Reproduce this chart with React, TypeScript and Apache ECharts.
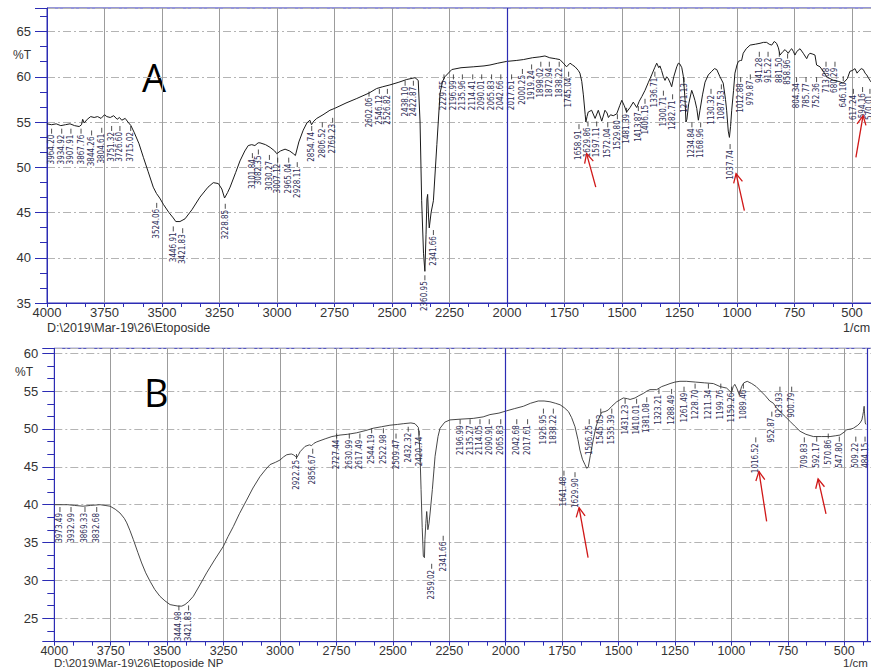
import React, { useEffect, useRef } from "react";
import * as echarts from "echarts";

// ---------- Panel A (Etoposide) spectrum: [wavenumber 1/cm, %T] ----------
const aSpectrum: number[][] = [
  [4000, 54.8], [3980, 54.7], [3960, 54.8], [3940, 54.6], [3920, 54.7], [3900, 54.8], [3880, 54.6], [3860, 54.5],
  [3850, 54.7], [3845, 55.3], [3838, 54.9], [3825, 55.3], [3810, 55.6], [3795, 55.5], [3780, 55.6], [3765, 55.4],
  [3750, 55.8], [3740, 55.6], [3725, 55.5], [3710, 55.7], [3695, 55.3], [3685, 55.5], [3675, 55.2], [3660, 55.4],
  [3648, 55.0], [3635, 54.6], [3620, 53.8], [3600, 52.6], [3581, 51.1], [3560, 49.5], [3538, 47.8], [3524, 47.1],
  [3510, 46.6], [3494, 45.9], [3470, 45.0], [3451, 44.4], [3440, 44.0], [3422, 44.0], [3400, 44.3], [3370, 45.3],
  [3335, 46.7], [3300, 47.8], [3277, 48.3], [3255, 48.2], [3240, 47.6], [3228, 46.6], [3215, 47.2], [3204, 47.8],
  [3180, 49.4], [3161, 50.7], [3140, 51.8], [3125, 52.4], [3110, 52.5], [3096, 52.4], [3082, 52.7], [3074, 52.7],
  [3050, 52.5], [3030, 52.2], [3010, 51.8], [3001, 51.5], [2985, 51.8], [2965, 52.0], [2945, 51.8], [2929, 51.5],
  [2920, 51.3], [2905, 52.8], [2886, 54.1], [2870, 54.9], [2857, 55.2], [2850, 54.7], [2840, 55.1], [2827, 55.4],
  [2800, 55.8], [2770, 56.3], [2750, 56.5], [2700, 57.1], [2653, 57.6], [2600, 58.2], [2567, 58.7], [2540, 58.9],
  [2509, 59.1], [2470, 59.4], [2436, 59.7], [2400, 59.9], [2386, 59.6], [2378, 55.0], [2371, 46.3], [2363, 40.5],
  [2357, 38.5], [2352, 42.6], [2348, 46.5], [2345, 47.0], [2341, 44.5], [2338, 43.3], [2330, 45.0], [2320, 46.3],
  [2305, 52.5], [2291, 58.2], [2280, 59.5], [2270, 60.0], [2240, 60.8], [2200, 61.0], [2147, 61.1], [2100, 61.2],
  [2074, 61.3], [2040, 61.5], [2001, 61.7], [1960, 61.8], [1929, 61.9], [1890, 62.1], [1857, 62.2], [1835, 62.3],
  [1814, 62.1], [1790, 62.0], [1770, 61.9], [1755, 61.5], [1741, 61.1], [1726, 61.5], [1715, 61.3], [1704, 61.1],
  [1690, 60.7], [1683, 60.4], [1675, 59.5], [1668, 58.0], [1660, 55.8], [1657, 55.0], [1652, 55.6], [1647, 56.1],
  [1632, 56.3], [1617, 55.4], [1603, 56.3], [1588, 55.1], [1574, 56.3], [1565, 56.0], [1559, 55.5], [1550, 55.8],
  [1538, 55.7], [1523, 55.9], [1510, 56.8], [1501, 57.4], [1490, 56.8], [1480, 56.1], [1465, 56.6], [1451, 57.2],
  [1436, 56.6], [1425, 57.3], [1414, 57.8], [1400, 58.5], [1385, 59.4], [1371, 60.2], [1358, 61.0], [1349, 61.5],
  [1340, 61.0], [1335, 61.2], [1328, 60.7], [1320, 60.0], [1313, 59.6], [1306, 60.0], [1299, 59.8], [1290, 59.3],
  [1284, 58.9], [1275, 60.0], [1262, 61.1], [1255, 61.5], [1248, 61.4], [1240, 61.0], [1233, 60.0], [1226, 57.5],
  [1222, 55.0], [1218, 55.3], [1210, 57.0], [1197, 58.5], [1190, 58.0], [1183, 57.4], [1175, 56.5], [1168, 55.2],
  [1161, 56.3], [1150, 58.0], [1139, 59.4], [1125, 60.2], [1110, 60.6], [1098, 60.9], [1088, 60.8], [1074, 60.0],
  [1060, 59.3], [1050, 57.5], [1045, 56.3], [1038, 54.0], [1033, 53.3], [1028, 54.5], [1023, 56.3], [1015, 58.5],
  [1009, 60.4], [1000, 61.3], [994, 61.7], [985, 61.8], [980, 61.8], [973, 62.6], [960, 63.1], [943, 63.5],
  [920, 63.6], [900, 63.7], [885, 63.8], [871, 63.8], [860, 63.6], [849, 63.5], [838, 63.9], [828, 63.7],
  [820, 63.2], [813, 62.4], [800, 62.8], [791, 63.0], [777, 62.6], [770, 62.9], [762, 63.1], [755, 62.8],
  [748, 62.4], [740, 62.8], [726, 63.1], [712, 62.6], [697, 62.0], [690, 62.4], [683, 62.6], [670, 62.5],
  [661, 62.4], [654, 61.3], [639, 61.1], [625, 60.6], [610, 60.0], [595, 59.8], [581, 59.6], [560, 59.5],
  [538, 59.3], [520, 59.8], [509, 60.6], [498, 60.7], [487, 60.9], [478, 60.4], [472, 60.6], [460, 60.9],
  [451, 60.8], [443, 60.4], [436, 60.2], [429, 59.9], [422, 59.6], [410, 59.2], [400, 59.0],
];

// ---------- Panel B (Etoposide NP) spectrum ----------
const bSpectrum: number[][] = [
  [4000, 40.0], [3970, 40.0], [3940, 40.0], [3910, 39.9], [3872, 39.8], [3840, 39.9], [3797, 40.0], [3775, 39.9],
  [3753, 39.8], [3730, 39.4], [3709, 38.9], [3690, 38.2], [3679, 37.6], [3665, 36.6], [3650, 35.4], [3630, 33.7],
  [3613, 32.3], [3595, 31.0], [3576, 29.9], [3555, 28.8], [3532, 27.9], [3510, 27.3], [3487, 26.8], [3470, 26.7],
  [3451, 26.6], [3435, 26.6], [3421, 26.8], [3405, 27.2], [3384, 27.9], [3355, 29.4], [3325, 31.0], [3290, 32.7],
  [3251, 34.5], [3230, 35.8], [3207, 37.1], [3180, 38.8], [3148, 40.6], [3120, 42.2], [3089, 43.7], [3065, 44.6],
  [3044, 45.3], [3020, 45.6], [3000, 45.9], [2985, 46.3], [2970, 46.6], [2950, 46.7], [2941, 46.6], [2932, 46.4],
  [2926, 46.2], [2918, 46.6], [2911, 47.0], [2889, 47.7], [2870, 47.9], [2860, 47.8], [2850, 48.1], [2837, 48.3],
  [2800, 48.7], [2770, 49.0], [2734, 49.2], [2700, 49.3], [2660, 49.5], [2620, 49.8], [2587, 50.1], [2550, 50.3],
  [2513, 50.5], [2480, 50.6], [2454, 50.7], [2420, 50.8], [2402, 50.7], [2387, 50.2], [2380, 47.0], [2375, 42.0],
  [2370, 37.0], [2365, 33.2], [2360, 33.0], [2358, 35.4], [2354, 37.5], [2350, 39.1], [2347, 38.0], [2345, 36.7],
  [2340, 37.5], [2335, 38.9], [2325, 42.0], [2313, 46.4], [2300, 49.0], [2291, 50.1], [2270, 50.9], [2247, 51.2],
  [2200, 51.3], [2144, 51.4], [2100, 51.6], [2070, 51.9], [2030, 52.1], [1996, 52.4], [1960, 52.7], [1922, 53.0],
  [1890, 53.4], [1856, 53.7], [1830, 53.7], [1804, 53.6], [1780, 53.4], [1759, 53.2], [1740, 52.8], [1722, 52.3],
  [1708, 51.5], [1693, 50.3], [1680, 48.6], [1671, 47.2], [1660, 46.0], [1649, 45.3], [1641, 44.8], [1634, 45.0],
  [1625, 46.5], [1612, 48.6], [1600, 50.3], [1590, 51.2], [1575, 52.2], [1560, 52.3], [1546, 52.5], [1530, 53.0],
  [1508, 53.6], [1479, 54.1], [1460, 54.0], [1449, 53.9], [1427, 54.1], [1410, 54.4], [1390, 54.7], [1375, 55.0],
  [1361, 55.2], [1331, 55.2], [1309, 55.6], [1290, 55.8], [1272, 56.0], [1250, 56.2], [1228, 56.3], [1200, 56.3],
  [1160, 56.2], [1120, 56.1], [1080, 56.0], [1050, 55.6], [1021, 55.4], [1000, 54.8], [992, 55.6], [985, 55.9],
  [975, 55.3], [965, 54.5], [955, 55.6], [945, 56.1], [930, 56.3], [910, 56.0], [890, 55.6], [870, 55.0],
  [850, 54.4], [830, 53.7], [814, 53.4], [800, 52.8], [785, 52.3], [760, 51.6], [740, 51.0], [720, 50.4],
  [696, 49.7], [670, 49.3], [637, 49.0], [600, 49.0], [563, 49.0], [540, 49.1], [519, 49.2], [500, 49.6],
  [489, 49.9], [470, 50.0], [460, 50.1], [440, 50.5], [430, 50.8], [422, 51.2], [418, 51.8], [415, 52.3],
  [412, 53.0], [410, 52.0], [407, 50.8], [404, 50.6],
];

// ---------- Peak labels (text, and where the label starts: [wavenumber, %T]) ----------
const aPeakText = [
  "3964.20", "3934.92", "3907.91", "3867.76", "3844.26", "3804.61", "3751.32", "3726.60", "3715.02",
  "3524.06", "3446.91", "3421.83", "3228.85", "3101.84", "3082.35", "3030.27", "3007.12", "2965.04",
  "2928.11", "2854.74", "2806.52", "2769.23", "2602.06", "2546.12", "2526.82", "2438.10", "2422.87",
  "2360.95", "2341.66", "2229.75", "2196.99", "2135.96", "2114.41", "2090.01", "2065.83", "2042.66",
  "2017.61", "2000.25", "1919.24", "1898.02", "1872.94", "1838.22", "1745.04", "1658.91", "1629.86",
  "1597.11", "1572.04", "1529.80", "1481.39", "1413.87", "1406.15", "1336.71", "1300.71", "1282.71",
  "1271.13", "1234.84", "1168.96", "1130.32", "1087.53", "1037.74", "1012.88", "979.87", "941.28",
  "915.22", "881.50", "858.96", "804.34", "785.77", "752.36", "713.08", "680.29", "646.10", "617.24",
  "594.16", "570.01",
];
const aPeakPos: number[][] = [
  [3980, 53.6], [3936, 53.6], [3896, 53.6], [3852, 53.6], [3806, 53.4], [3762, 53.7], [3719, 53.9], [3683, 53.9], [3636, 53.9],
  [3523, 45.4], [3451, 42.8], [3410, 42.6], [3225, 45.3], [3107, 50.9], [3081, 51.3], [3033, 50.7], [2997, 50.4], [2949, 50.4],
  [2912, 49.9], [2849, 53.9], [2803, 54.3], [2758, 54.8], [2600, 57.7], [2555, 58.0], [2520, 58.0], [2443, 58.9], [2407, 58.9],
  [2357, 37.4], [2320, 42.4], [2274, 59.6], [2233, 59.6], [2194, 59.6], [2149, 59.6], [2110, 59.6], [2067, 59.6], [2027, 59.6],
  [1980, 59.6], [1933, 60.2], [1893, 60.7], [1853, 61.0], [1816, 61.0], [1773, 61.0], [1732, 59.9], [1687, 54.1], [1648, 54.4],
  [1610, 54.4], [1562, 54.3], [1520, 55.2], [1480, 55.9], [1429, 56.1], [1400, 56.9], [1357, 59.9], [1320, 57.8], [1280, 57.4],
  [1230, 59.3], [1196, 54.3], [1158, 54.3], [1113, 58.0], [1068, 58.5], [1030, 51.9], [984, 59.3], [942, 59.6], [903, 62.1],
  [865, 62.1], [816, 62.1], [780, 61.9], [741, 59.3], [700, 59.3], [654, 59.3], [613, 61.0], [574, 61.0], [538, 59.4], [494, 58.0],
  [454, 58.2], [422, 58.0],
];
const bPeakText = [
  "3973.49", "3932.99", "3869.33", "3832.68", "3444.98", "3421.83", "2922.25", "2856.67", "2727.44",
  "2630.99", "2617.49", "2544.19", "2522.98", "2509.47", "2432.32", "2420.74", "2359.02", "2341.66",
  "2196.99", "2135.27", "2114.05", "2090.91", "2065.83", "2042.68", "2017.61", "1926.95", "1838.22",
  "1641.48", "1629.90", "1566.25", "1545.03", "1535.39", "1431.23", "1410.01", "1381.08", "1323.21",
  "1288.49", "1261.49", "1228.70", "1211.34", "1199.76", "1159.26", "1089.46", "1016.52", "952.87",
  "923.93", "900.79", "709.83", "592.17", "570.86", "547.80", "509.22", "484.15",
];
const bPeakPos: number[][] = [
  [3975, 38.9], [3926, 38.9], [3864, 38.9], [3812, 38.9], [3448, 25.9], [3405, 25.9], [2927, 45.9], [2855, 46.6], [2749, 48.6],
  [2693, 48.6], [2646, 48.6], [2594, 49.3], [2542, 49.3], [2486, 48.6], [2432, 49.5], [2383, 49.0], [2328, 31.4], [2277, 35.1],
  [2202, 50.5], [2158, 50.5], [2114, 50.5], [2073, 50.5], [2022, 50.5], [1951, 50.5], [1903, 50.5], [1833, 51.9], [1789, 51.9],
  [1742, 43.7], [1693, 43.5], [1630, 50.5], [1579, 51.9], [1530, 51.9], [1471, 53.2], [1420, 53.2], [1375, 53.4], [1321, 54.5],
  [1265, 54.5], [1210, 54.8], [1161, 55.2], [1102, 55.2], [1047, 55.2], [999, 54.8], [947, 55.2], [892, 48.1], [821, 51.5],
  [785, 54.8], [733, 54.8], [677, 48.1], [622, 48.2], [571, 48.6], [522, 48.2], [449, 48.2], [408, 48.2],
];

// ---------- Red arrows: [tail wn, tail %T, head wn, head %T] ----------
const aArrows: number[][] = [[1614, 47.8, 1654, 51.5], [968, 45.2, 1004, 49.3], [483, 51.1, 452, 55.7]];
const bArrows: number[][] = [[1635, 33.0, 1675, 39.6], [844, 37.8, 878, 44.4], [581, 38.8, 616, 43.4]];

const BLUE = "#2c2cb4";
const RED = "#d01818";
const LABEL_FONT = "'Liberation Sans', Arial, sans-serif";

function xAxisCfg(gridIndex: number, fontSize: number, margin: number) {
  return {
    type: "value",
    gridIndex,
    inverse: true,
    min: 250,
    max: 4000,
    interval: 250,
    axisLine: { show: true, lineStyle: { color: BLUE, width: 1 } },
    axisTick: { show: true, length: 4, lineStyle: { color: BLUE } },
    minorTick: { show: true, splitNumber: 3, length: 4, lineStyle: { color: BLUE } },
    minorSplitLine: { show: false },
    axisLabel: {
      color: "#333",
      fontSize,
      fontFamily: LABEL_FONT,
      margin,
      formatter: (v: number) => (v < 500 ? "" : String(v)),
    },
    splitLine: { show: true, lineStyle: { color: "#9c9c9c", width: 1 } },
  };
}

function yAxisCfg(gridIndex: number, extra: any, showMin: boolean) {
  return {
    type: "value",
    gridIndex,
    axisLine: { show: true, lineStyle: { color: BLUE, width: 1 } },
    axisTick: { show: true, length: 12, lineStyle: { color: BLUE } },
    minorTick: { show: true, splitNumber: 3, length: 7, lineStyle: { color: BLUE } },
    axisLabel: {
      color: "#333",
      fontSize: 13,
      fontFamily: LABEL_FONT,
      margin: 16,
      showMaxLabel: false,
      showMinLabel: showMin,
      formatter: (v: number) => String(v),
    },
    splitLine: { show: true, lineStyle: { color: "#b4b4b4", width: 1, type: [8, 3, 2, 3] } },
    ...extra,
  };
}

function labelRenderer(texts: string[]) {
  return (params: any, api: any) => {
    const p = api.coord([api.value(0), api.value(1)]);
    return {
      type: "group",
      children: [
        { type: "line", shape: { x1: p[0], y1: p[1] - 6, x2: p[0], y2: p[1] - 1 }, style: { stroke: "#222", lineWidth: 0.8 } },
        {
          type: "text",
          x: p[0],
          y: p[1],
          rotation: Math.PI / 2,
          style: {
            text: texts[params.dataIndex],
            fill: "#2e2e58",
            font: "8px 'Liberation Sans Narrow', 'DejaVu Sans Condensed', sans-serif",
            align: "right",
            verticalAlign: "middle",
          },
        },
      ],
    };
  };
}

function arrowRenderer(params: any, api: any) {
  const t = api.coord([api.value(0), api.value(1)]);
  const h = api.coord([api.value(2), api.value(3)]);
  const dx = h[0] - t[0];
  const dy = h[1] - t[1];
  const len = Math.hypot(dx, dy) || 1;
  const ux = dx / len;
  const uy = dy / len;
  const hl = 9;
  const hw = 4.5;
  const bx = h[0] - ux * hl;
  const by = h[1] - uy * hl;
  return {
    type: "group",
    children: [
      { type: "line", shape: { x1: t[0], y1: t[1], x2: h[0], y2: h[1] }, style: { stroke: RED, lineWidth: 1.3 } },
      {
        type: "polyline",
        shape: { points: [[bx - uy * hw, by + ux * hw], [h[0], h[1]], [bx + uy * hw, by - ux * hw]] },
        style: { stroke: RED, lineWidth: 1.3, fill: "none" },
      },
    ],
  };
}

export default function App() {
  const ref = useRef<HTMLDivElement>(null);
  useEffect(() => {
    if (!ref.current) return;
    const chart = echarts.init(ref.current, null, { renderer: "svg" });
    const option: any = {
      animation: false,
      backgroundColor: "#ffffff",
      grid: [
        {
          left: 47, top: 8, width: 862.5, height: 295,
          show: true, borderColor: BLUE, borderWidth: 1,
          containLabel: false, outerBoundsMode: "none",
        },
        {
          left: 54.3, top: 348.3, width: 846.4, height: 293.4,
          show: true, borderColor: BLUE, borderWidth: 1,
          containLabel: false, outerBoundsMode: "none",
        },
      ],
      xAxis: [xAxisCfg(0, 13, 3), xAxisCfg(1, 12.5, 3)],
      yAxis: [
        yAxisCfg(0, { min: 35, max: 67.6, interval: 5 }, true),
        yAxisCfg(1, { min: 21.9, max: 60.66, splitNumber: 8 }, false),
      ],
      series: [
        {
          type: "line",
          xAxisIndex: 0,
          yAxisIndex: 0,
          data: aSpectrum,
          showSymbol: false,
          lineStyle: { color: "#1a1a1a", width: 1 },
          markLine: {
            silent: true,
            symbol: ["none", "none"],
            label: { show: false },
            lineStyle: { color: BLUE, type: "solid", width: 1.2 },
            data: [{ xAxis: 2000 }],
          },
        },
        {
          type: "line",
          xAxisIndex: 1,
          yAxisIndex: 1,
          data: bSpectrum,
          showSymbol: false,
          lineStyle: { color: "#333", width: 0.9 },
          markLine: {
            silent: true,
            symbol: ["none", "none"],
            label: { show: false },
            lineStyle: { color: BLUE, type: "solid", width: 1.2 },
            data: [{ xAxis: 2000 }, { xAxis: 400 }],
          },
        },
        {
          type: "custom",
          xAxisIndex: 0,
          yAxisIndex: 0,
          data: aPeakPos,
          renderItem: labelRenderer(aPeakText),
          silent: true,
        },
        {
          type: "custom",
          xAxisIndex: 1,
          yAxisIndex: 1,
          data: bPeakPos,
          renderItem: labelRenderer(bPeakText),
          silent: true,
        },
        {
          type: "custom",
          xAxisIndex: 0,
          yAxisIndex: 0,
          data: aArrows,
          encode: { x: [0, 2], y: [1, 3] },
          renderItem: arrowRenderer,
          silent: true,
        },
        {
          type: "custom",
          xAxisIndex: 1,
          yAxisIndex: 1,
          data: bArrows,
          encode: { x: [0, 2], y: [1, 3] },
          renderItem: arrowRenderer,
          silent: true,
        },
      ],
      graphic: [
        { type: "text", left: 13, top: 49, style: { text: "%T", fontSize: 12, fontFamily: LABEL_FONT, fill: "#333" } },
        { type: "text", left: 15, top: 366, style: { text: "%T", fontSize: 12, fontFamily: LABEL_FONT, fill: "#333" } },
        { type: "text", left: 142, top: 58, style: { text: "A", fontSize: 38, fontFamily: "'Open Sans', 'Liberation Sans', sans-serif", fill: "#000" } },
        { type: "text", left: 144, top: 373, style: { text: "B", fontSize: 38, fontFamily: "'Open Sans', 'Liberation Sans', sans-serif", fill: "#000" } },
        { type: "text", left: 47, top: 321, style: { text: "D:\\2019\\Mar-19\\26\\Etoposide", fontSize: 12.5, fontFamily: LABEL_FONT, fill: "#333" } },
        { type: "text", left: 54, top: 657, style: { text: "D:\\2019\\Mar-19\\26\\Etoposide NP", fontSize: 11.5, fontFamily: LABEL_FONT, fill: "#333" } },
        { type: "text", left: 843, top: 321, style: { text: "1/cm", fontSize: 12.5, fontFamily: LABEL_FONT, fill: "#333" } },
        { type: "text", left: 843, top: 657, style: { text: "1/cm", fontSize: 11.5, fontFamily: LABEL_FONT, fill: "#333" } },
      ],
    };
    chart.setOption(option);
    return () => chart.dispose();
  }, []);
  return (
    <div
      ref={ref}
      style={{ position: "absolute", left: 0, top: 0, width: 871, height: 668, background: "#fff" }}
    />
  );
}
